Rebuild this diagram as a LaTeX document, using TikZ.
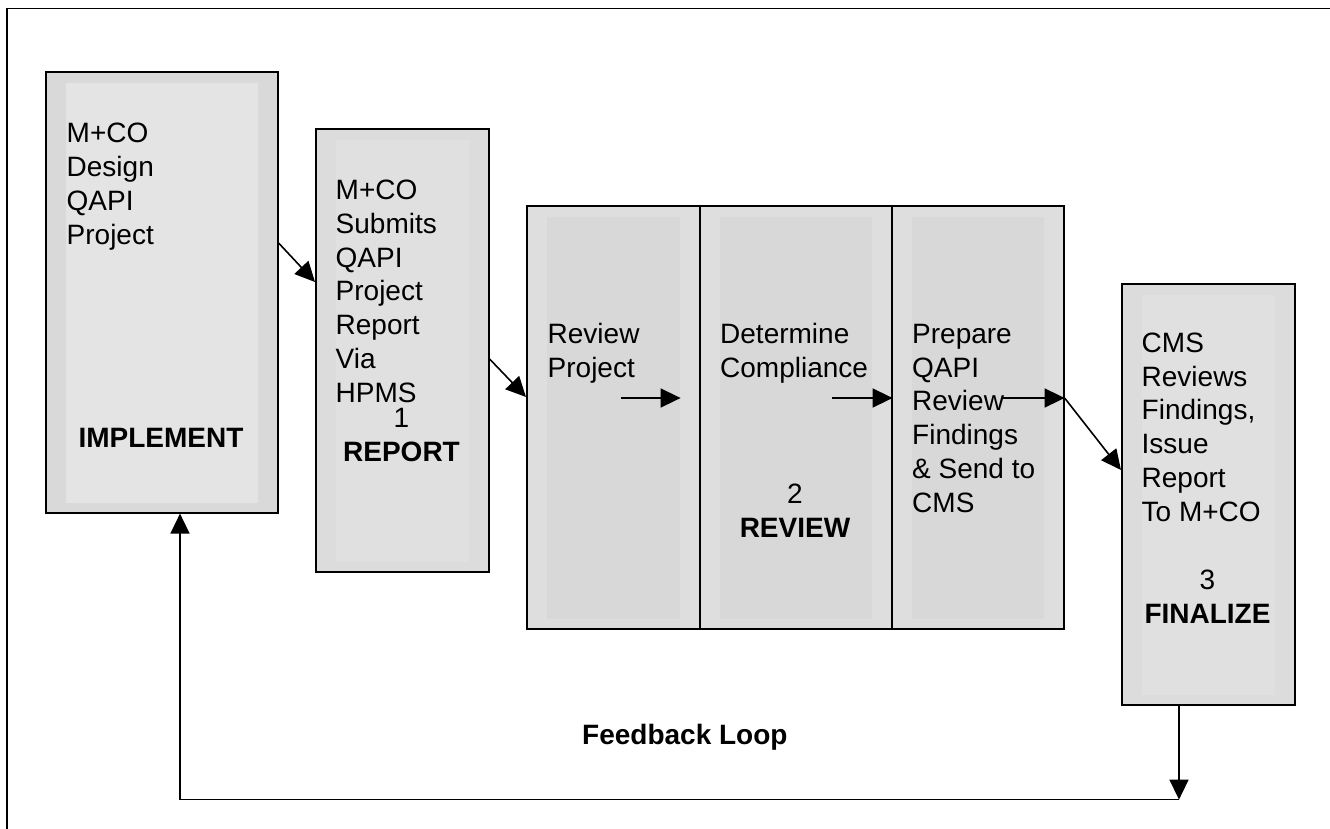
\documentclass[tikz,border=0pt]{standalone}
\usepackage{fontspec}
\setmainfont{Liberation Sans}
\usetikzlibrary{arrows.meta}

\definecolor{implout}{HTML}{D9D9D9}
\definecolor{implin}{HTML}{E4E4E4}
\definecolor{repout}{HTML}{DCDCDC}
\definecolor{repin}{HTML}{E0E0E0}
\definecolor{revout}{HTML}{DEDEDE}
\definecolor{revin}{HTML}{D8D8D8}
\definecolor{finout}{HTML}{DCDCDC}
\definecolor{finin}{HTML}{E0E0E0}

\begin{document}
\begin{tikzpicture}[x=1pt, y=-1pt,
  box/.style 2 args={draw, line width=1.6pt, fill=#1, inner sep=0pt, anchor=north west,
    path picture={\fill[#2] ([xshift=20pt,yshift=-11pt]path picture bounding box.north west)
      rectangle ([xshift=-20pt,yshift=10pt]path picture bounding box.south east);}},
  txt/.style={anchor=base west, inner sep=0pt, align=left, font=\fontsize{28}{33.7}\selectfont},
  ttl/.style={anchor=base, inner sep=0pt, align=center, font=\fontsize{28}{33.7}\selectfont},
  flow/.style={line width=1.6pt, -{Triangle[length=20pt,width=19pt]}}]

\useasboundingbox (0,0) rectangle (1330,829);
\clip (0,0) rectangle (1330,829);
\draw[line width=1.6pt] (7,8.5) rectangle (1345,845);

% boxes
\node[box={implout}{implin}, minimum width=232pt, minimum height=441pt] (impl) at (45,71) {};
\node[box={repout}{repin}, minimum width=173pt, minimum height=443pt] (rep) at (315,128) {};
\node[box={revout}{revin}, minimum width=173pt, minimum height=423pt] (revA) at (526,205) {};
\node[box={revout}{revin}, minimum width=192pt, minimum height=423pt] (revB) at (699,205) {};
\node[box={revout}{revin}, minimum width=172pt, minimum height=423pt] (revC) at (891,205) {};
\node[box={finout}{finin}, minimum width=173pt, minimum height=421pt] (fin) at (1121,283) {};

% texts (placed at the baseline of their last line)
\node[txt] (impltxt) at (66.5,244) {M+CO\\Design\\QAPI\\Project};
\node[ttl] (implttl) at (161,447) {\bfseries IMPLEMENT};
\node[txt] (reptxt) at (335.5,402) {M+CO\\Submits\\QAPI\\Project\\Report\\Via\\HPMS};
\node[ttl] (repttl) at (401.5,461) {1\\\bfseries REPORT};
\node[txt] (revAtxt) at (547.5,377) {Review\\Project};
\node[txt] (revBtxt) at (720,377) {Determine\\Compliance};
\node[ttl] (revttl) at (795,537) {2\\\bfseries REVIEW};
\node[txt] (revCtxt) at (912,512) {Prepare\\QAPI\\Review\\Findings\\\& Send to\\CMS};
\node[txt] (fintxt) at (1141.5,521) {CMS\\Reviews\\Findings,\\Issue\\Report\\To M+CO};
\node[ttl] (finttl) at (1207.5,623) {3\\\bfseries FINALIZE};
\node[txt] (loop) at (582,744) {\bfseries Feedback Loop};

% arrows
\draw[flow] ([yshift=-172pt]impl.north east) -- ([yshift=-154pt]rep.north west);
\draw[flow] ([yshift=-231pt]rep.north east) -- ([yshift=-192pt]revA.north west);
\draw[flow] ([xshift=95pt,yshift=-193pt]revA.north west) -- ([xshift=-20pt,yshift=-193pt]revA.north east);
\draw[flow] ([xshift=133pt,yshift=-193pt]revB.north west) -- ([yshift=-193pt]revB.north east);
\draw[flow] ([xshift=112pt,yshift=-193pt]revC.north west) -- ([yshift=-193pt]revC.north east) coordinate (pc);
\draw[flow] (pc) -- ([yshift=-187pt]fin.north west);

\coordinate (loopR) at ([xshift=58pt,yshift=-94pt]fin.south west);
\draw[flow] ([xshift=58pt]fin.south west) -- (loopR);
\draw[flow] (loopR) -| ([xshift=135pt]impl.south west);

\end{tikzpicture}
\end{document}
